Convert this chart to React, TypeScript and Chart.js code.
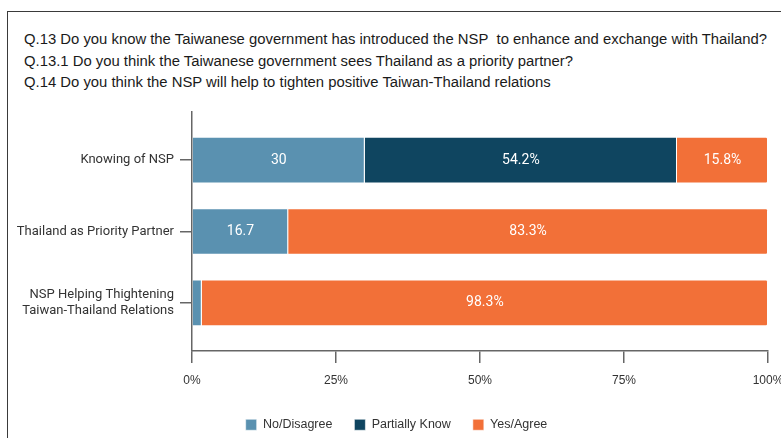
import React, { useEffect, useRef } from "react";
import { Chart, registerables } from "chart.js";

Chart.register(...registerables);

const titleLines = [
  "Q.13 Do you know the Taiwanese government has introduced the NSP\u00a0 to enhance and exchange with Thailand?",
  "Q.13.1 Do you think the Taiwanese government sees Thailand as a priority partner?",
  "Q.14 Do you think the NSP will help to tighten positive Taiwan-Thailand relations",
];

const categories: (string | string[])[] = [
  "Knowing of NSP",
  "Thailand as Priority Partner",
  ["NSP Helping Thightening", "Taiwan-Thailand Relations"],
];

const seriesNames = ["No/Disagree", "Partially Know", "Yes/Agree"];
const noDisagree = [30, 16.7, 1.7];
const partiallyKnow = [54.2, 0, 0];
const yesAgree = [15.8, 83.3, 98.3];
const labelSuffix = ["", "%", "%"];
const seriesColors = ["#5a91b0", "#0f4560", "#f27038"];

const xTicks = [0, 25, 50, 75, 100];

const dataLabelPlugin = {
  id: "dataLabels",
  afterDatasetsDraw(chart: any) {
    const ctx = chart.ctx;
    ctx.save();
    ctx.font = "14px Roboto";
    ctx.fillStyle = "#ffffff";
    ctx.textAlign = "center";
    ctx.textBaseline = "middle";
    chart.data.datasets.forEach((ds: any, di: number) => {
      const meta = chart.getDatasetMeta(di);
      meta.data.forEach((el: any, i: number) => {
        const v = ds.data[i];
        if (!v || v < 5) return;
        const cx = (el.x + el.base) / 2;
        ctx.fillText(String(v) + labelSuffix[di], cx, el.y);
      });
    });
    ctx.restore();
  },
};

export default function App() {
  const ref = useRef<HTMLCanvasElement | null>(null);
  useEffect(() => {
    if (!ref.current) return;
    const datasetsValues = [noDisagree, partiallyKnow, yesAgree];
    const chart = new Chart(ref.current, {
      type: "bar",
      data: {
        labels: categories as any,
        datasets: datasetsValues.map((vals, i) => ({
          label: seriesNames[i],
          data: vals,
          backgroundColor: seriesColors[i],
          borderColor: "rgba(255,255,255,0.55)",
          borderWidth: 1,
          borderRadius: 2,
          categoryPercentage: 0.653,
          barPercentage: 1,
        })),
      },
      options: {
        indexAxis: "y",
        responsive: false,
        animation: false,
        devicePixelRatio: 1,
        layout: { padding: { top: 112, left: 25, right: 13, bottom: -3 } },
        plugins: {
          legend: {
            position: "bottom",
            align: "center",
            labels: {
              boxWidth: 11,
              boxHeight: 11,
              padding: 22,
              color: "#333",
              font: { family: "'Liberation Sans', Arial", size: 12.5 },
            },
          },
          tooltip: { enabled: false },
        },
        scales: {
          x: {
            stacked: true,
            min: 0,
            max: 100,
            afterFit(scale: any) {
              scale.paddingRight = 0;
              scale.paddingLeft = 0;
              scale.height = 45.5;
            },
            afterBuildTicks(scale: any) {
              scale.ticks = xTicks.map((v) => ({ value: v }));
            },
            ticks: {
              padding: 10,
              color: "#333",
              font: { family: "'Liberation Sans', Arial", size: 12 },
              callback: (v: any) => v + "%",
            },
            grid: {
              display: true,
              drawOnChartArea: false,
              drawTicks: true,
              tickLength: 12,
              color: "#666",
              lineWidth: 1.5,
            },
            border: { display: true, color: "#666", width: 1.5 },
          },
          y: {
            stacked: true,
            afterFit(scale: any) {
              scale.width = 192 - 25;
              scale._computeLabelArea = () => undefined;
            },
            afterBuildTicks(scale: any) {
              const extra = 0.35;
              scale._startValue -= extra / 2;
              scale._valueRange += extra;
            },
            ticks: {
              padding: 6,
              color: "#333",
              font: { family: "Roboto", size: 13 },
            },
            grid: {
              display: true,
              offset: false,
              drawOnChartArea: false,
              drawTicks: true,
              tickLength: 12,
              color: "#666",
              lineWidth: 1.5,
            },
            border: { display: true, color: "#666", width: 1.5 },
          },
        },
      },
      plugins: [dataLabelPlugin],
    } as any);
    return () => chart.destroy();
  }, []);

  return (
    <div
      style={{
        position: "fixed",
        left: 0,
        top: 0,
        width: 781,
        height: 438,
        background: "#fff",
        overflow: "hidden",
      }}
    >
      <div
        style={{
          position: "absolute",
          left: 7,
          top: 11,
          right: 0,
          bottom: 0,
          borderLeft: "1px solid #3a3a3a",
          borderTop: "1px solid #3a3a3a",
        }}
      />
      <div
        style={{
          position: "absolute",
          left: 24,
          top: 29,
          fontFamily: "'Liberation Sans', Arial, sans-serif",
          fontSize: 14.85,
          lineHeight: "21.5px",
          color: "#1a1a1a",
          whiteSpace: "pre",
        }}
      >
        {titleLines.map((t, i) => (
          <div key={i}>{t}</div>
        ))}
      </div>
      <canvas
        ref={ref}
        width={781}
        height={438}
        style={{ position: "absolute", left: 0, top: 0, width: 781, height: 438 }}
      />
    </div>
  );
}
